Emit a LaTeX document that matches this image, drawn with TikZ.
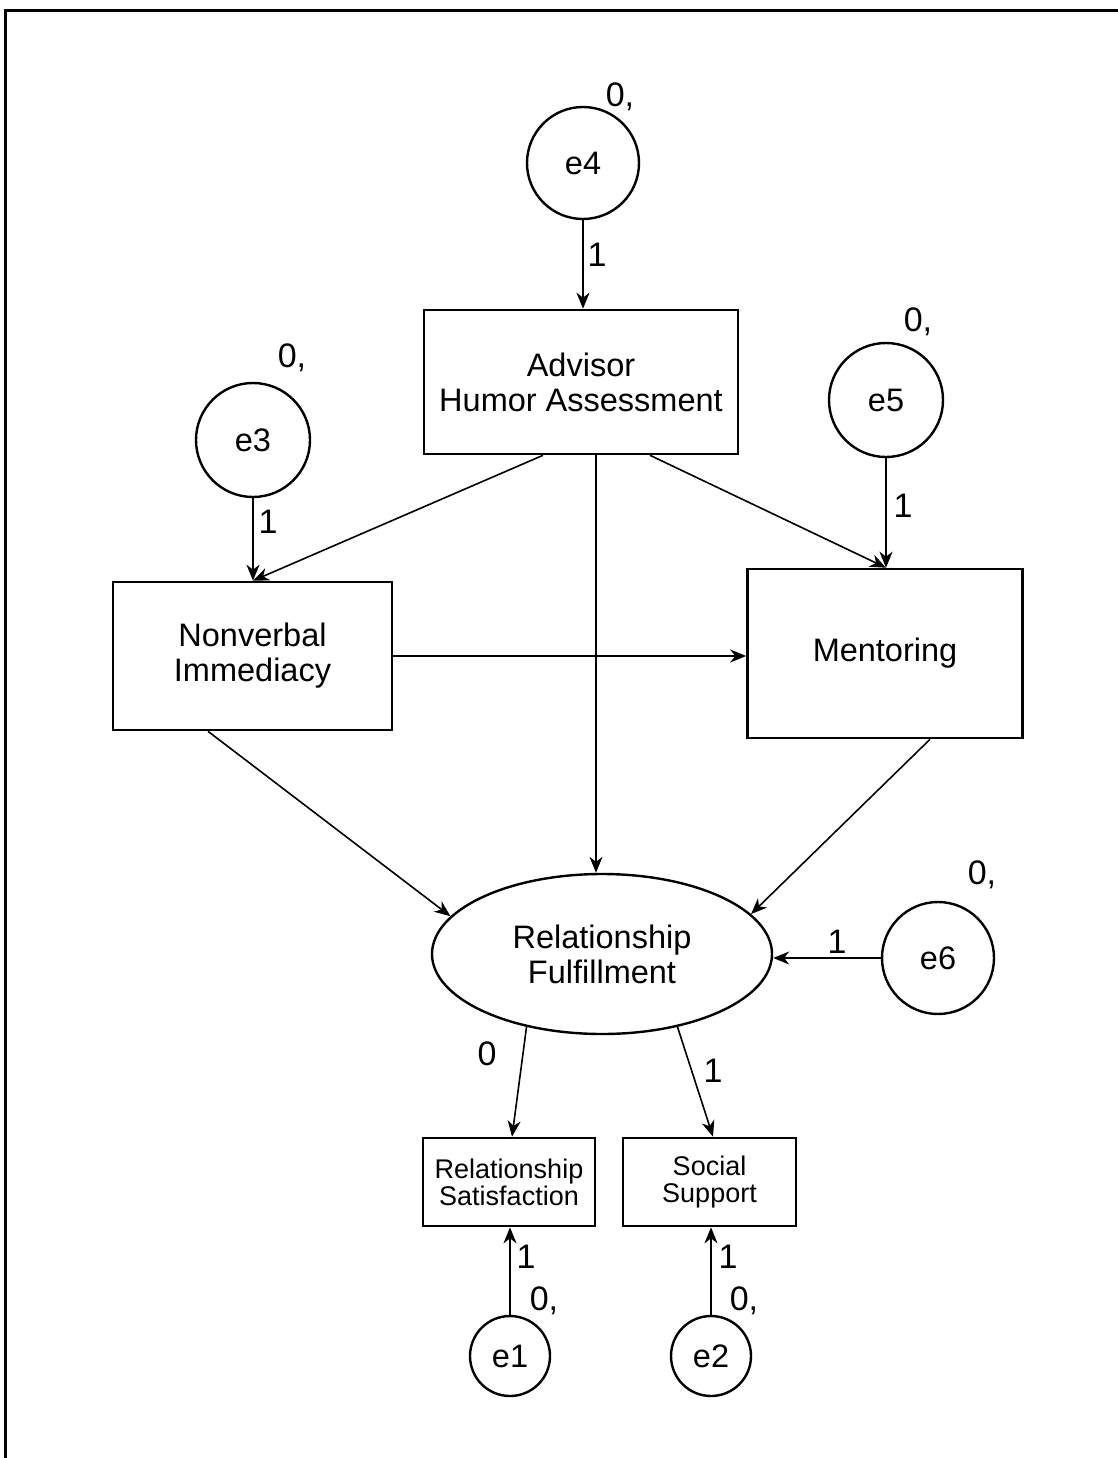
\documentclass[tikz,border=0pt]{standalone}
\usepackage{fontspec}
\setmainfont{Liberation Sans}
\usetikzlibrary{arrows.meta,shapes.geometric,calc}
\begin{document}
\begin{tikzpicture}[x=1pt,y=-1pt,
  big/.style={font=\fontsize{32.5}{35}\selectfont},
  small/.style={font=\fontsize{27}{27}\selectfont},
  lab/.style={font=\fontsize{34}{34}\selectfont, inner sep=0pt},
  errc/.style={draw, circle, line width=2.4pt, inner sep=0pt, big},
  varbox/.style={draw, rectangle, line width=2.6pt, align=center, inner sep=0pt, big},
  smallbox/.style={draw, rectangle, line width=2.6pt, align=center, inner sep=0pt, small},
  conn/.style={line width=1.6pt, -{Stealth[length=16pt,width=13pt,inset=5pt]}}
]
\useasboundingbox (0,0) rectangle (1118,1458);
\draw[line width=3pt] (5,1458) -- (5,11) -- (1118,11);

% nodes
\node[errc, minimum size=112pt] (e4) at (583,163) {e4};
\node[varbox, minimum width=314pt, minimum height=144pt] (adv) at (581,382) {Advisor\\Humor Assessment};
\node[errc, minimum size=114pt] (e3) at (253,440) {e3};
\node[errc, minimum size=114pt] (e5) at (886,400) {e5};
\node[varbox, minimum width=279pt, minimum height=148pt] (nv) at (252.5,656) {Nonverbal\\Immediacy};
\node[varbox, minimum width=275pt, minimum height=169pt] (ment) at (885,653.5) {Mentoring};
\node[draw, ellipse, line width=2.4pt, minimum width=340pt, minimum height=160pt, inner sep=0pt, align=center, big] (rf) at (602,954) {Relationship\\Fulfillment};
\node[errc, minimum size=112pt] (e6) at (938,958) {e6};
\node[smallbox, minimum width=172pt, minimum height=88pt] (rs) at (509,1182) {Relationship\\Satisfaction};
\node[smallbox, minimum width=173pt, minimum height=88pt] (ss) at (709.5,1182) {Social\\Support};
\node[errc, minimum size=80pt] (e1) at (510,1356) {e1};
\node[errc, minimum size=80pt] (e2) at (711,1356) {e2};

% connectors
\draw[conn] (e4.south) -- (e4.south |- adv.north);
\draw[conn] (e3.south) -- (e3.south |- nv.north);
\coordinate (nvin) at (e3.south |- nv.north);
\draw[conn] ([xshift=-38pt]adv.south) -- (nvin);
\draw[conn] (e5.south) -- (e5.south |- ment.north);
\coordinate (mentin) at (e5.south |- ment.north);
\draw[conn] ([xshift=69pt]adv.south) -- (mentin);
\draw[conn] ([xshift=15pt]adv.south) -- ([xshift=15pt]adv.south |- rf.north);
\draw[conn] (nv.east) -- (nv.east -| ment.west);
\draw[conn] ([xshift=-44.5pt]nv.south) -- (rf.166);
\draw[conn] ([xshift=45pt]ment.south) -- (rf.15);
\draw[conn] (e6.west) -- (e6.west -| rf.east);
\draw[conn] (rf.224) -- ([xshift=3pt]rs.north);
\draw[conn] (rf.-44) -- ([xshift=3.5pt]ss.north);
\draw[conn] (e1.north) -- (e1.north |- rs.south);
\draw[conn] (e2.north) -- (e2.north |- ss.south);

% labels
\node[lab] (l4a) at (620,97) {0,};
\node[lab] (l4b) at (597,255) {1};
\node[lab] (l3a) at (292,358) {0,};
\node[lab] (l3b) at (268,522) {1};
\node[lab] (l5a) at (918,322) {0,};
\node[lab] (l5b) at (903,506) {1};
\node[lab] (l6a) at (982,875) {0,};
\node[lab] (l6b) at (837,942) {1};
\node[lab] (lrs) at (487,1054) {0};
\node[lab] (lss) at (713,1071) {1};
\node[lab] (l1b) at (526,1257) {1};
\node[lab] (l1a) at (544,1301) {0,};
\node[lab] (l2b) at (728,1257) {1};
\node[lab] (l2a) at (744,1301) {0,};
\end{tikzpicture}
\end{document}
